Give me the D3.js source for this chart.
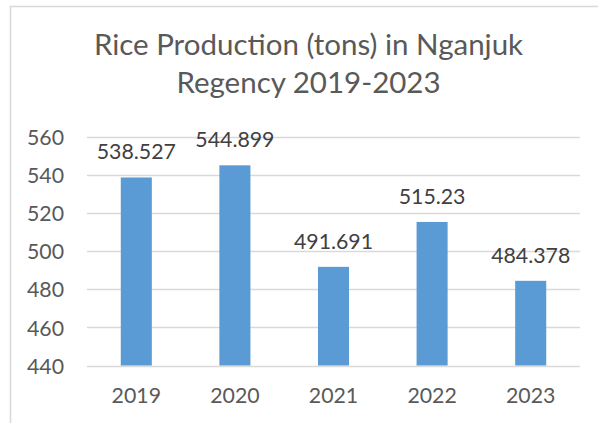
<!DOCTYPE html>
<html><head><meta charset="utf-8">
<script src="https://cdn.jsdelivr.net/npm/d3@7"></script>
<style>html,body{margin:0;padding:0;background:#fff;}svg{display:block;}</style>
</head><body>
<svg id="c" width="598" height="423"></svg>
<script>
const categories = ["2019", "2020", "2021", "2022", "2023"];
const values = [538.527, 544.899, 491.691, 515.23, 484.378];
const valueLabels = ["538.527", "544.899", "491.691", "515.23", "484.378"];
const yTicks = [440, 460, 480, 500, 520, 540, 560];
const titleLines = ["Rice Production (tons) in Nganjuk", "Regency 2019-2023"];

const svg = d3.select("#c");
const font = "Lato, 'Open Sans', sans-serif";
const textColor = "#595959";

// frame
svg.append("path").attr("d", "M10.5,423 V6.5 H598").attr("fill", "none").attr("stroke", "#d9d9d9").attr("stroke-width", 1.5);

const x = d3.scaleBand().domain(categories).range([87, 580]).paddingInner(0.685).paddingOuter(0.3425);
const y = d3.scaleLinear().domain([440, 560]).range([365.5, 136.5]);

// gridlines
svg.append("g").selectAll("line").data(yTicks).join("line")
  .attr("x1", 87).attr("x2", 580)
  .attr("y1", d => Math.round(y(d)) + 0.5).attr("y2", d => Math.round(y(d)) + 0.5)
  .attr("stroke", "#d9d9d9").attr("stroke-width", 1.3);

// y axis labels
const yAxis = d3.axisLeft(y).tickValues(yTicks).tickSize(0).tickPadding(0);
const gy = svg.append("g").attr("transform", "translate(64,0)").call(yAxis);
gy.select(".domain").remove();
gy.selectAll("text").attr("font-family", font).attr("font-size", 21.3).attr("fill", textColor).attr("dy", "0.36em");

// bars
svg.append("g").selectAll("rect").data(values).join("rect")
  .attr("x", (d, i) => x(categories[i]))
  .attr("width", x.bandwidth())
  .attr("y", d => y(d))
  .attr("height", d => y(440) - y(d))
  .attr("fill", "#5b9bd5");

// data labels
svg.append("g").selectAll("text").data(values).join("text")
  .attr("x", (d, i) => x(categories[i]) + x.bandwidth() / 2)
  .attr("y", d => y(d) - 18)
  .attr("text-anchor", "middle")
  .attr("font-family", font).attr("font-size", 21.3).attr("fill", "#404040")
  .text((d, i) => valueLabels[i]);

// x axis labels
const xAxis = d3.axisBottom(x).tickSize(0).tickPadding(0);
const gx = svg.append("g").attr("transform", "translate(0,403)").call(xAxis);
gx.select(".domain").remove();
gx.selectAll("text").attr("font-family", font).attr("font-size", 21.3).attr("fill", textColor).attr("dy", "0");

// title
svg.append("g").selectAll("text").data(titleLines).join("text")
  .attr("x", 308.5).attr("y", (d, i) => 55 + i * 38)
  .attr("text-anchor", "middle")
  .attr("font-family", font).attr("font-size", 29.5).attr("fill", textColor)
  .text(d => d);
</script>
</body></html>
